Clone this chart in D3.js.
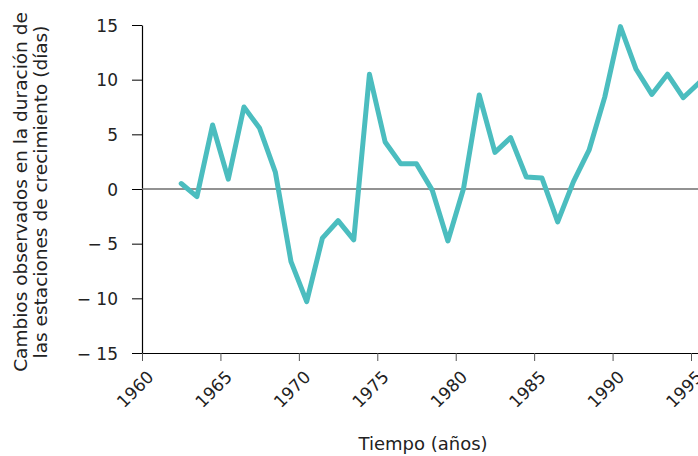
<!DOCTYPE html>
<html>
<head>
<meta charset="utf-8">
<script src="https://cdn.jsdelivr.net/npm/d3@7"></script>
<style>
  body { margin: 0; background: #fff; }
  svg { display: block; font-family: "DejaVu Sans", Verdana, sans-serif; }
</style>
</head>
<body>
<div id="chart"></div>
<script>
// growing season length change, one value per year (plotted at mid-year)
const years = [1962, 1963, 1964, 1965, 1966, 1967, 1968, 1969, 1970, 1971,
    1972, 1973, 1974, 1975, 1976, 1977, 1978, 1979, 1980, 1981,
    1982, 1983, 1984, 1985, 1986, 1987, 1988, 1989, 1990, 1991,
    1992, 1993, 1994, 1995];
const values = [0.5, -0.7, 5.85, 0.9, 7.5, 5.55, 1.55, -6.65, -10.3, -4.5,
    -2.9, -4.65, 10.5, 4.3, 2.3, 2.3, -0.1, -4.75, 0.05, 8.6,
    3.35, 4.7, 1.1, 1.0, -3.0, 0.65, 3.55, 8.4, 14.85, 10.95,
    8.65, 10.5, 8.35, 9.7];
const xTicks = [1960, 1965, 1970, 1975, 1980, 1985, 1990, 1995];
const yTicks = [-15, -10, -5, 0, 5, 10, 15];

const yTitle = ["Cambios observados en la duración de", "las estaciones de crecimiento (días)"];
const xTitle = "Tiempo (años)";

const W = 698, H = 456;
const margin = {top: 25, left: 142, bottom: 103};

const svg = d3.select("#chart").append("svg")
    .attr("width", W)
    .attr("height", H);

const x = d3.scaleLinear()
    .domain([1960, 1996])
    .range([margin.left, margin.left + 36 * 15.686]);

const y = d3.scaleLinear()
    .domain([-15, 15])
    .range([H - margin.bottom, margin.top]);

// axes
const yAxis = svg.append("g")
    .attr("transform", "translate(" + margin.left + ",0)")
    .call(d3.axisLeft(y).tickValues(yTicks).tickSize(10).tickSizeOuter(0)
        .tickFormat(d => d < 0 ? "\u2212 " + Math.abs(d) : d));

const xAxis = svg.append("g")
    .attr("transform", "translate(0," + y(-15) + ")")
    .call(d3.axisBottom(x).tickValues(xTicks).tickSize(8).tickSizeOuter(0)
        .tickFormat(d3.format("d")));

[xAxis, yAxis].forEach(g => {
    g.select(".domain").attr("stroke", "#000").attr("stroke-width", 1.2);
    g.selectAll(".tick line").attr("stroke", "#000");
    g.selectAll("text")
        .attr("font-family", "DejaVu Sans, Verdana, sans-serif")
        .attr("font-size", 17)
        .attr("fill", "#222");
});
xAxis.selectAll(".tick line").attr("stroke", "#555");
yAxis.selectAll("text").attr("x", -24).attr("dy", "0.36em");

xAxis.selectAll("text")
    .attr("text-anchor", "end")
    .attr("transform", "translate(8,21) rotate(-45)")
    .attr("dy", "0.35em")
    .attr("y", 0)
    .attr("x", 0);

// zero line
svg.append("line")
    .attr("x1", margin.left).attr("x2", W)
    .attr("y1", y(0)).attr("y2", y(0))
    .attr("stroke", "#6e6e6e")
    .attr("stroke-width", 1.5);

// data line
const line = d3.line()
    .x((d, i) => x(years[i] + 0.5))
    .y(d => y(d));

svg.append("path")
    .datum(values)
    .attr("d", line)
    .attr("fill", "none")
    .attr("stroke", "#4bbdbf")
    .attr("stroke-width", 5)
    .attr("stroke-linejoin", "round")
    .attr("stroke-linecap", "round");

// titles
svg.append("text")
    .attr("transform", "translate(0,192) rotate(-90)")
    .selectAll("tspan")
    .data(yTitle)
    .join("tspan")
    .attr("x", 0)
    .attr("y", (d, i) => 27 + i * 20)
    .attr("text-anchor", "middle")
    .attr("font-size", 18.5)
    .attr("fill", "#222")
    .text(d => d);

svg.append("text")
    .attr("x", 423)
    .attr("y", 450)
    .attr("text-anchor", "middle")
    .attr("font-size", 18)
    .attr("fill", "#222")
    .text(xTitle);
</script>
</body>
</html>
